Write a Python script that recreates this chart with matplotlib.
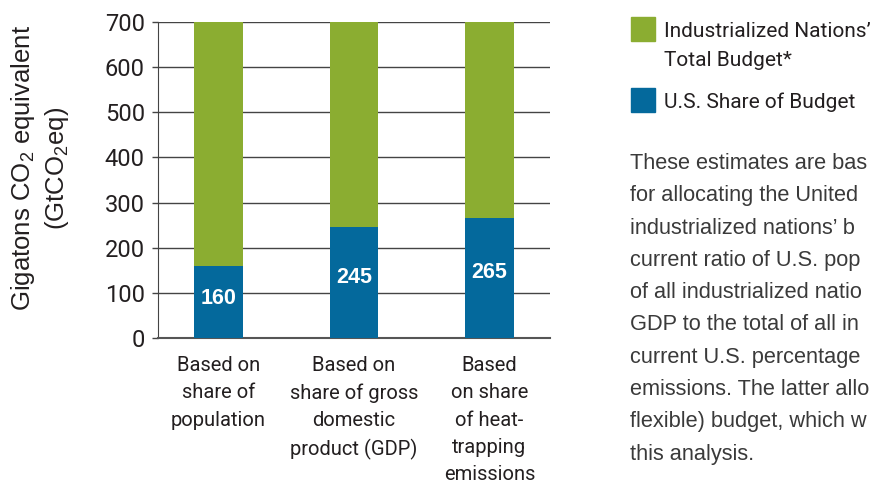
import matplotlib
matplotlib.use("Agg")
import matplotlib.pyplot as plt
from matplotlib.patches import Rectangle

categories = ["Based on\nshare of\npopulation",
              "Based on\nshare of gross\ndomestic\nproduct (GDP)",
              "Based\non share\nof heat-\ntrapping\nemissions"]
us_share = [160, 245, 265]
total_budget = [700, 700, 700]
yticks = [0, 100, 200, 300, 400, 500, 600, 700]
legend_labels = ["Industrialized Nations\u2019\nTotal Budget*", "U.S. Share of Budget"]
# the note is cut off at the right edge in the source picture
note = ["These estimates are bas",
        "for allocating the United",
        "industrialized nations\u2019 b",
        "current ratio of U.S. pop",
        "of all industrialized natio",
        "GDP to the total of all in",
        "current U.S. percentage",
        "emissions. The latter allo",
        "flexible) budget, which w",
        "this analysis."]

GREEN = "#8bad31"
BLUE = "#04699c"
DARK = "#231f20"
narrow = "Roboto"

plt.rcParams["mathtext.fontset"] = "custom"
plt.rcParams["mathtext.rm"] = "Liberation Sans"

fig = plt.figure(figsize=(8.74, 4.88), dpi=100)
W, H = 874, 488
ax = fig.add_axes([158 / W, 1 - 338 / H, 392 / W, 316 / H])

x = range(len(categories))
rest = [t - u for t, u in zip(total_budget, us_share)]
ax.bar(x, us_share, width=0.36, color=BLUE, zorder=3)
ax.bar(x, rest, width=0.36, bottom=us_share, color=GREEN, zorder=3)

for xi, v in zip(x, us_share):
    ax.text(xi, v * 0.55, str(v), color="white", fontsize=15.5, fontweight="bold",
            family="Liberation Sans", ha="center", va="center", zorder=4)

ax.set_xlim(-0.4465, 2.4465)
ax.set_ylim(0, 700)
ax.set_yticks(yticks)
ax.set_yticklabels([str(t) for t in yticks], family=narrow, fontsize=17, color=DARK)
ax.set_xticks(list(x))
ax.set_xticklabels(categories, family=narrow, fontsize=14.5, color=DARK, linespacing=1.55)
ax.tick_params(axis="x", length=0, pad=13)
ax.tick_params(axis="y", length=4.5, width=1, color="#444444", pad=5)
ax.grid(axis="y", color="#444444", linewidth=1, zorder=0)
for s in ["top", "right"]:
    ax.spines[s].set_visible(False)
ax.spines["left"].set_color("#444444")
ax.spines["bottom"].set_color("#555555")
ax.spines["bottom"].set_linewidth(1.5)

fig.text(40 / W, 1 - 168 / H,
         "Gigatons CO$_\\mathregular{2}$ equivalent\n(GtCO$_\\mathregular{2}$eq)",
         rotation=90, ha="center", va="center", multialignment="center",
         family="Liberation Sans", fontsize=18.5, color=DARK, linespacing=1.25)

# legend
for (top, color), label in zip([(17, GREEN), (88, BLUE)], legend_labels):
    fig.add_artist(Rectangle((631 / W, 1 - (top + 24) / H), 24 / W, 24 / H,
                             color=color, transform=fig.transFigure))
    for j, part in enumerate(label.split("\n")):
        fig.text(664 / W, 1 - (top + 20 + j * 29) / H, part, family=narrow,
                 fontsize=15, color=DARK, va="baseline")

for i, line in enumerate(note):
    fig.text(630 / W, 1 - (169 + i * 32.3) / H, line, family="Liberation Sans",
             fontsize=15.7, color="#3a3a3a", va="baseline")

fig.savefig("out.png", dpi=100)
